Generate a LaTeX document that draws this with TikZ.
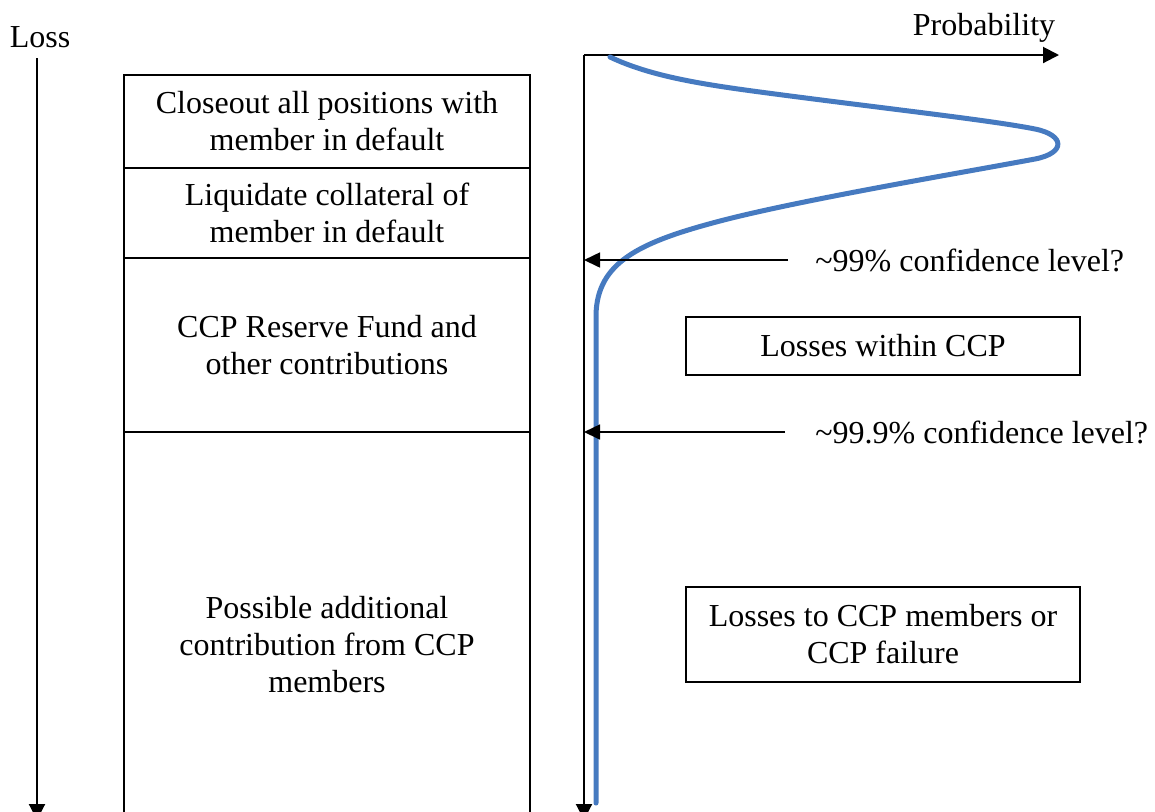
\documentclass[tikz,border=0pt]{standalone}
\usepackage{fontspec}
\setmainfont{Liberation Serif}
\usetikzlibrary{arrows.meta}
\definecolor{curveblue}{RGB}{70,122,192}
\tikzset{
  lbl/.style={font=\fontsize{16}{18.5}\selectfont, inner sep=0pt, align=center},
  stackbox/.style={draw, line width=0.9pt, minimum width=203pt, lbl},
  sidebox/.style={draw, line width=0.9pt, minimum width=197pt, lbl},
  axis/.style={line width=1pt, -{Triangle[length=8pt,width=8pt]}},
  pointer/.style={line width=0.8pt, -{Triangle[length=8pt,width=7.5pt]}},
  density/.style={curveblue, line width=2.5pt, line cap=round}
}
\begin{document}
\begin{tikzpicture}[x=0.5pt, y=-0.5pt]
\useasboundingbox (0,0) rectangle (1155,811);
% Loss axis
\node[lbl] (loss) at (40,37) {Loss};
\coordinate (lossTop) at (37,58);
\coordinate (lossEnd) at (37,820);
\draw[axis] (lossTop) -- (lossEnd);
% stacked boxes
\node[stackbox, minimum height=46.5pt] (box1) at (327,121.5) {Closeout all positions with\\member in default};
\node[stackbox, minimum height=45pt] (box2) at (327,213) {Liquidate collateral of\\member in default};
\node[stackbox, minimum height=87pt] (box3) at (327,345) {CCP Reserve Fund and\\other contributions};
\node[stackbox, minimum height=213pt] (box4) at (327,645) {Possible additional\\contribution from CCP\\members};
% probability axes
\coordinate (O) at (584,55);
\coordinate (pEnd) at (1059,55);
\coordinate (lEnd) at (584,820);
\node[lbl] (prob) at (984,28) {Probability};
\draw[axis] (O) -- (pEnd);
\draw[axis] (O) -- (lEnd);
% density curve
\draw[density] (610,57) .. controls (650,76) and (700,84) .. (760,92)
  .. controls (880,108) and (990,120) .. (1035,129)
  .. controls (1065,135) and (1066,153) .. (1035,159)
  .. controls (960,173) and (800,200) .. (720,221)
  .. controls (640,242) and (597,262) .. (596,315)
  -- (596,803);
% confidence levels
\node[lbl, anchor=west] (t99) at (815,260) {\textasciitilde 99\% confidence level?};
\node[lbl, anchor=west] (t999) at (815,432) {\textasciitilde 99.9\% confidence level?};
\draw[pointer] ([xshift=-13.5pt]t99.west) -- (t99.west -| O);
\draw[pointer] ([xshift=-15pt]t999.west) -- (t999.west -| O);
% side boxes
\node[sidebox, minimum height=29pt] (within) at (883,346) {Losses within CCP};
\node[sidebox, minimum height=47.5pt] (failure) at (883,634.5) {Losses to CCP members or\\CCP failure};
\end{tikzpicture}
\end{document}
